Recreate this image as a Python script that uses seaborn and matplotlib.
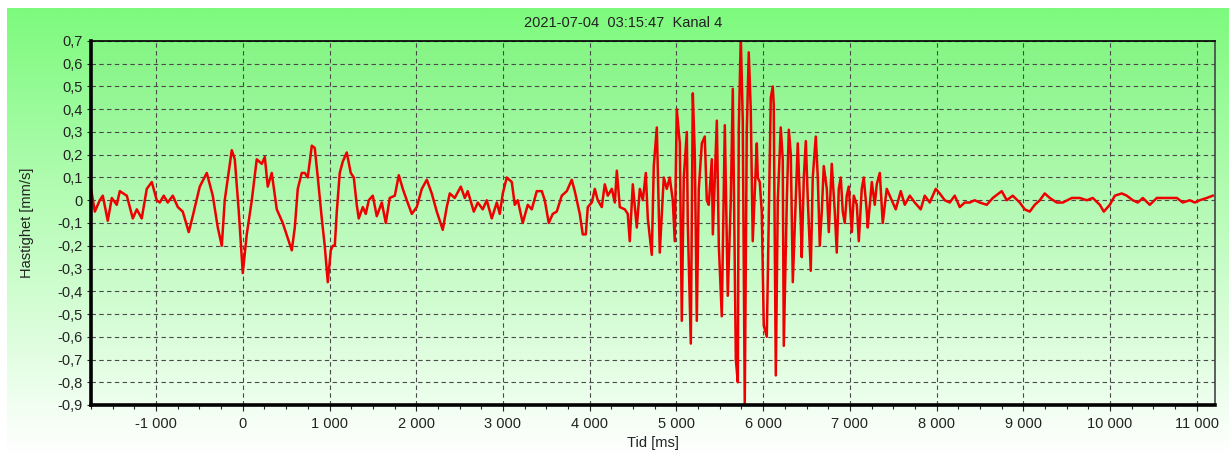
import numpy as np
import seaborn as sns
import matplotlib.pyplot as plt
from matplotlib.ticker import MultipleLocator, FuncFormatter

# avlest signal (tid i ms, hastighet i mm/s)
time_ms = [
    -1745, -1706, -1649, -1614, -1557, -1510, -1453, -1418, -1337, -1268,
    -1222, -1165, -1107, -1049, -992, -957, -911, -865, -807, -749,
    -692, -623, -577, -496, -415, -346, -288, -242, -208, -127,
    -92, -46, 0, 46, 104, 161, 219, 254, 288, 334,
    392, 461, 565, 600, 634, 680, 715, 749, 796, 830,
    865, 911, 945, 980, 1015, 1038, 1061, 1084, 1118, 1153,
    1199, 1245, 1280, 1314, 1337, 1384, 1418, 1453, 1499, 1545,
    1603, 1649, 1695, 1753, 1799, 1845, 1891, 1949, 2006, 2064,
    2122, 2179, 2237, 2306, 2352, 2387, 2444, 2514, 2560, 2594,
    2664, 2710, 2767, 2813, 2871, 2929,
    2963, 2998, 3044, 3102, 3136, 3171, 3228, 3286, 3332, 3390,
    3448, 3482, 3528, 3574, 3620, 3678, 3736, 3793, 3828, 3886,
    3920, 3955, 3978, 4024, 4059, 4093, 4139, 4174, 4209, 4255,
    4290, 4313, 4347, 4405, 4439, 4462, 4497, 4543, 4578, 4613,
    4647, 4670, 4716, 4739, 4774, 4808, 4854, 4889, 4923, 4958,
    4981, 5004, 5039, 5062, 5085, 5120, 5131, 5166, 5189, 5212,
    5235, 5258, 5293, 5327, 5350, 5373, 5408, 5420, 5466, 5489,
    5523, 5558, 5592, 5627, 5650, 5685, 5708, 5719, 5742, 5765,
    5788, 5811, 5834, 5857, 5880, 5927, 5938, 5961, 5984, 6007,
    6042, 6088, 6111, 6122, 6146, 6169, 6203, 6226, 6238, 6273,
    6296, 6319, 6342, 6376, 6399, 6434, 6445, 6469, 6492, 6515,
    6549, 6572, 6607, 6630, 6653, 6676, 6699, 6734, 6757, 6791,
    6826, 6849, 6872, 6895, 6918, 6941, 6964, 6987, 7022, 7045,
    7080, 7103, 7137, 7160, 7195, 7206, 7253, 7287, 7310, 7345,
    7379, 7425, 7483, 7529, 7587, 7633, 7691, 7748, 7817, 7863,
    7921, 7990, 8036, 8094, 8152, 8209, 8267, 8325, 8382, 8440,
    8498, 8578, 8648, 8751, 8809, 8878, 8959, 9016, 9074, 9132,
    9190, 9247, 9305, 9386, 9455, 9559, 9651, 9732, 9801, 9882,
    9928, 9997, 10055, 10135, 10193, 10262, 10320, 10378, 10458, 10539,
    10608, 10689, 10770, 10839, 10919, 10977, 11034, 11115, 11184,
]
velocity = [
    0.04, -0.05, 0.0, 0.02, -0.09, 0.01, -0.02, 0.04, 0.02, -0.08,
    -0.04, -0.08, 0.05, 0.08, 0.0, -0.01, 0.02, -0.01, 0.02, -0.03,
    -0.05, -0.14, -0.07, 0.06, 0.12, 0.02, -0.12, -0.2, 0.0, 0.22,
    0.18, -0.05, -0.32, -0.15, 0.0, 0.18, 0.16, 0.19, 0.06, 0.12,
    -0.04, -0.1, -0.22, -0.12, 0.05, 0.12, 0.12, 0.1, 0.24, 0.23,
    0.1, -0.08, -0.2, -0.36, -0.22, -0.2, -0.2, -0.05, 0.12, 0.17,
    0.21, 0.12, 0.1, -0.02, -0.08, -0.03, -0.06, 0.0, 0.02, -0.07,
    -0.01, -0.1, 0.01, 0.02, 0.11, 0.05, 0.0, -0.06, -0.03, 0.05,
    0.09, 0.03, -0.05, -0.13, -0.03, 0.03, 0.01, 0.06, 0.01, 0.04,
    -0.05, -0.01, -0.04, 0.0, -0.08, -0.01,
    -0.06, 0.03, 0.1, 0.08, -0.02, 0.0, -0.1, -0.02, -0.04, 0.04,
    0.04, 0.0, -0.1, -0.06, -0.05, 0.02, 0.04, 0.09, 0.04, -0.06,
    -0.15, -0.15, -0.03, -0.01, 0.05, 0.0, -0.03, 0.07, 0.02, 0.05,
    -0.01, 0.13, -0.03, -0.04, -0.06, -0.18, 0.07, -0.12, 0.05, 0.0,
    0.12, -0.08, -0.24, 0.15, 0.32, -0.23, 0.1, 0.05, 0.1, 0.0,
    -0.18, 0.4, 0.25, -0.53, 0.1, 0.3, -0.1, -0.63, 0.47, 0.2,
    -0.53, 0.05, 0.25, 0.28, 0.0, -0.02, 0.18, -0.15, 0.35, -0.2,
    -0.51, 0.33, -0.42, 0.0, 0.49, -0.7, -0.8, 0.31, 0.72, 0.35,
    -0.9, 0.3, 0.65, 0.4, -0.18, 0.25, 0.1, 0.08, -0.05, -0.55,
    -0.6, 0.45, 0.5, 0.42, -0.77, 0.0, 0.32, 0.18, -0.64, 0.0,
    0.31, 0.2, -0.36, 0.0, 0.25, -0.1, -0.25, 0.1, 0.26, 0.0,
    -0.31, 0.1, 0.28, 0.1, -0.2, -0.05, 0.15, 0.05, -0.14, 0.16,
    -0.05, -0.23, 0.05, 0.1, -0.05, -0.1, 0.02, 0.06, -0.14, 0.02,
    -0.02, -0.18, 0.05, 0.1, -0.05, -0.12, 0.08, -0.02, 0.07, 0.12,
    -0.1, 0.05, 0.0, -0.04, 0.04, -0.02, 0.02, -0.01, -0.04, 0.02,
    -0.01, 0.05, 0.03, 0.0, -0.01, 0.02, -0.03, -0.01, -0.01, 0.0,
    -0.01, -0.02, 0.01, 0.04, 0.0, 0.02, -0.01, -0.04, -0.05, -0.02,
    0.0, 0.03, 0.01, -0.01, -0.01, 0.01, 0.01, 0.0, 0.01, -0.02,
    -0.05, -0.02, 0.02, 0.03, 0.02, 0.0, -0.01, 0.01, -0.02, 0.01,
    0.01, 0.01, 0.01, -0.01, 0.0, -0.01, 0.0, 0.01, 0.02,
]

title = "2021-07-04  03:15:47  Kanal 4"

plt.rcParams['font.family'] = ['Liberation Sans', 'DejaVu Sans']
plt.rcParams['font.size'] = 10.5

W, H = 1229, 454
fig = plt.figure(figsize=(W / 100, H / 100), dpi=100)
fig.patch.set_facecolor('white')

# ytre bakgrunn: grønn -> hvit
bg = fig.add_axes([7 / W, 0, 1 - 7 / W, 1 - 8 / H], zorder=-10)
grad = np.linspace(0, 1, 256)[:, None]
top_c = np.array([125, 250, 125]) / 255
bot_c = np.array([255, 255, 255]) / 255
img = top_c[None, None, :] * (1 - grad[..., None]) + bot_c[None, None, :] * grad[..., None]
bg.imshow(img, aspect='auto', extent=[0, 1, 0, 1])
bg.set_axis_off()

ax = fig.add_axes([91 / W, (H - 405) / H, (1215 - 91) / W, (405 - 41) / H])
ptop = np.array([132, 245, 132]) / 255
pbot = np.array([238, 255, 238]) / 255
pimg = ptop[None, None, :] * (1 - grad[..., None]) + pbot[None, None, :] * grad[..., None]
ax.imshow(pimg, aspect='auto', extent=[0, 1, 0, 1], transform=ax.transAxes, zorder=0)

sns.lineplot(x=time_ms, y=velocity, ax=ax, color='#ee0000', linewidth=1.8,
             estimator=None, zorder=3)

ax.set_xlim(-1750, 11210)
ax.set_ylim(-0.9, 0.7)
ax.xaxis.set_major_locator(MultipleLocator(1000))
ax.xaxis.set_minor_locator(MultipleLocator(250))
ax.yaxis.set_major_locator(MultipleLocator(0.1))


def fmt_x(v, pos):
    return f"{int(round(v)):,}".replace(",", " ")


def fmt_y(v, pos):
    v = round(v, 1)
    if v == 0:
        return "0"
    return f"{v:.1f}".replace(".", ",")


ax.xaxis.set_major_formatter(FuncFormatter(fmt_x))
ax.yaxis.set_major_formatter(FuncFormatter(fmt_y))

ax.grid(True, which='major', linestyle=(0, (4, 3)), color='#4a4a4a', linewidth=0.8, zorder=1)
ax.set_axisbelow(False)
for ln in ax.get_xgridlines() + ax.get_ygridlines():
    ln.set_zorder(1)

ax.spines['left'].set_linewidth(2.6)
ax.spines['bottom'].set_linewidth(2.6)
ax.spines['top'].set_linewidth(1.2)
ax.spines['right'].set_linewidth(1.2)
ax.spines['right'].set_color('#444444')
for s in ax.spines.values():
    s.set_zorder(5)

ax.tick_params(axis='x', which='major', length=4, width=0.8, pad=5, colors='#222222')
ax.tick_params(axis='x', which='minor', length=3, width=0.8, colors='#222222')
ax.tick_params(axis='y', length=3, width=0.8, pad=3, colors='#222222')

ax.set_xlabel("Tid [ms]", labelpad=3, color='#222222')
ax.set_ylabel("Hastighet [mm/s]", labelpad=17, color='#222222')
fig.text(623 / W, 1 - 23 / H, title, ha='center', va='center', color='#222222')

fig.savefig("out.png", dpi=100)
